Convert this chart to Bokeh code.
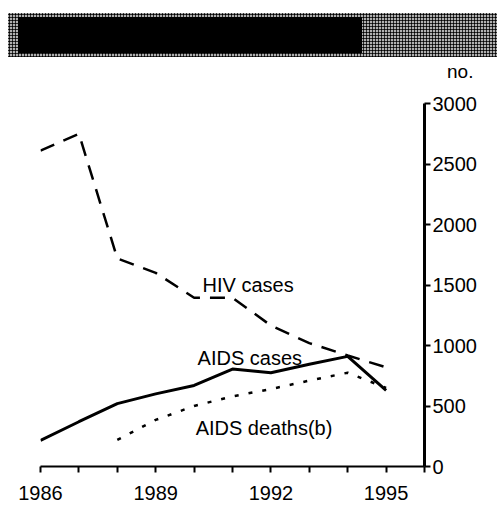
from bokeh.plotting import figure
from bokeh.layouts import column
from bokeh.models import Range1d, FixedTicker, Label, Div
from bokeh.embed import file_html
from bokeh.resources import INLINE

# ---- data ----
years = [1986, 1987, 1988, 1989, 1990, 1991, 1992, 1993, 1994, 1995]
hiv_cases = [2610, 2750, 1720, 1600, 1395, 1395, 1165, 1020, 917, 820]
aids_cases = [215, 370, 520, 600, 670, 805, 775, 845, 910, 630]
death_years = [1988, 1989, 1990, 1991, 1992, 1993, 1994, 1995]
aids_deaths = [220, 385, 500, 580, 640, 710, 775, 650]

x_ticks = list(range(1986, 1997))
x_labeled = [1986, 1989, 1992, 1995]
y_ticks = [0, 500, 1000, 1500, 2000, 2500, 3000]
unit_label = "no."
series_labels = ["HIV cases", "AIDS cases", "AIDS deaths(b)"]

FONT = "Liberation Sans"
W = 497
TOP_H = 80

# ---- header strip: obscured title bar and unit label ----
header_html = (
    f'<div style="position:relative;width:{W}px;height:{TOP_H}px;margin:0;padding:0;">'
    '<div style="position:absolute;left:8px;top:13px;width:489px;height:44px;'
    'background-color:#b0b0b0;'
    'background-image:radial-gradient(circle, #000 0.9px, transparent 1.3px);'
    'background-size:3px 3px;"></div>'
    '<div style="position:absolute;left:18px;top:17px;width:344px;height:36px;'
    'background:#000;"></div>'
    f'<div style="position:absolute;left:447px;top:62px;font-family:\'{FONT}\';'
    f'font-size:19px;line-height:19px;color:#000;">{unit_label}</div>'
    '</div>'
)
header = Div(text=header_html, width=W, height=TOP_H, margin=0)

# ---- main chart ----
p = figure(width=W, height=429, output_backend="svg", toolbar_location=None,
           x_range=Range1d(1986, 1996), y_range=Range1d(0, 3000),
           y_axis_location="right",
           min_border_left=40, min_border_right=73,
           min_border_top=23, min_border_bottom=43)
p.outline_line_color = None
p.grid.visible = False

xa = p.xaxis[0]
xa.ticker = FixedTicker(ticks=x_ticks)
xa.major_label_overrides = {t: (str(t) if t in x_labeled else "") for t in x_ticks}
xa.axis_line_width = 2
xa.major_tick_line_width = 2
xa.major_tick_out = 6
xa.major_tick_in = 0
xa.minor_tick_line_color = None
xa.major_label_text_font = FONT
xa.major_label_text_font_size = "20px"
xa.major_label_text_color = "black"
xa.major_label_standoff = 13

ya = p.yaxis[0]
ya.ticker = FixedTicker(ticks=y_ticks)
ya.axis_line_width = 3
ya.major_tick_line_width = 2
ya.major_tick_out = 6
ya.major_tick_in = 0
ya.minor_tick_line_color = None
ya.major_label_text_font = FONT
ya.major_label_text_font_size = "20px"
ya.major_label_text_color = "black"
ya.major_label_standoff = 2

p.line(years, hiv_cases, line_color="black", line_width=2.5, line_dash="15 10")
p.line(years, aids_cases, line_color="black", line_width=3)
p.line(death_years, aids_deaths, line_color="black", line_width=2.5, line_dash="4 10")

label_pos = [(1990.22, 1496), (1990.09, 893), (1990.04, 320)]
for txt, (lx, ly) in zip(series_labels, label_pos):
    p.add_layout(Label(x=lx, y=ly, text=txt, text_font=FONT, text_font_size="20px",
                       text_color="black", text_baseline="alphabetic", text_align="left"))

layout = column(header, p, spacing=0)
open("out.html", "w").write(file_html(layout, INLINE))
